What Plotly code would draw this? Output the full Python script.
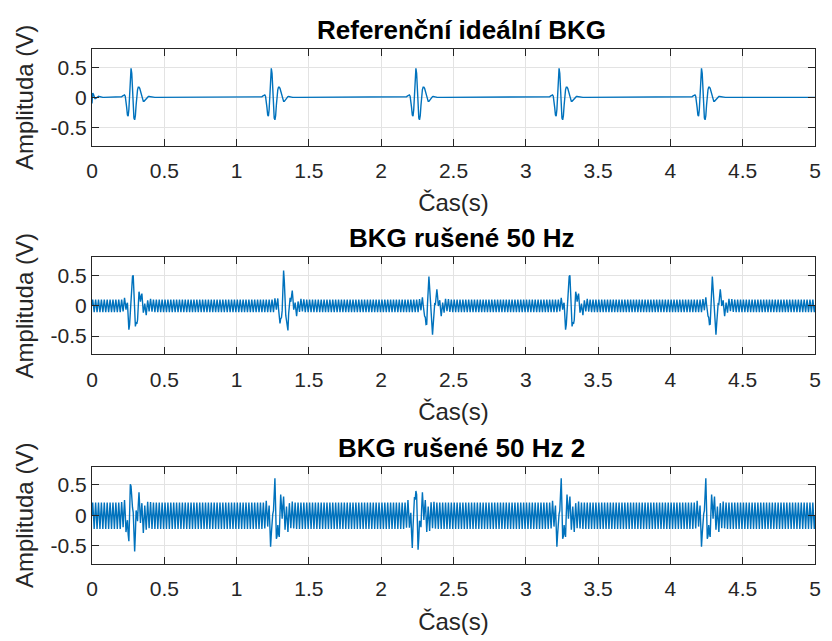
import numpy as np
import plotly.graph_objects as go

# ---------------- data ----------------
FS = 200  # samples per second
DURATION = 5.0

# one heart-beat (BKG) complex, sampled every 5 ms, starting 70 ms before the main peak
beat_template = [
    0.0, 0.01, 0.02, 0.03, 0.04, 0.04, 0.02, -0.05, -0.17, -0.29,
    -0.31, -0.20, 0.02, 0.30, 0.48, 0.40, 0.13, -0.16, -0.34, -0.37,
    -0.30, -0.13, 0.03, 0.13, 0.17, 0.17, 0.15, 0.10, 0.04, -0.01,
    -0.05, -0.065, -0.065, -0.05, -0.03, -0.01, 0.005, 0.012, 0.015, 0.015,
    0.012, 0.008, 0.004, 0.002, 0.0,
]
TEMPLATE_OFFSET = -0.070  # s, time of first template sample relative to main peak

# tail of a previous beat visible at the very start of the ideal record
start_tail = [-0.10, 0.07, 0.05, 0.0, -0.02, -0.02, -0.01, 0.01, 0.02, 0.02,
              0.015, 0.01, 0.005, 0.0]

# main-peak times (s) of each beat in the three records
beats_ideal = [0.270, 1.240, 2.240, 3.230, 4.215]
beats_noisy1 = [0.280, 1.323, 2.329, 3.301, 4.288]
beats_noisy2 = [0.272, 1.259, 2.235, 3.240, 4.240]

# one 50 Hz mains cycle (4 samples at 200 Hz) of the interference
mains_cycle_1 = [0.0, 0.10, 0.0, -0.105]
mains_cycle_2 = [0.0, 0.21, 0.0, -0.225]

titles = ["Referenční ideální BKG", "BKG rušené 50 Hz", "BKG rušené 50 Hz 2"]
x_label = "Čas(s)"
y_label = "Amplituda (V)"
x_ticks = [0, 0.5, 1, 1.5, 2, 2.5, 3, 3.5, 4, 4.5, 5]
y_ticks = [-0.5, 0, 0.5]

# ---------------- assemble records ----------------
n = int(round(DURATION * FS)) + 1
t = np.arange(n) / FS


def place_beats(times):
    s = np.zeros(n)
    tmpl = np.array(beat_template)
    for tb in times:
        i0 = int(round((tb + TEMPLATE_OFFSET) * FS))
        i1 = min(i0 + len(tmpl), n)
        s[i0:i1] += tmpl[: i1 - i0]
    return s


def tile(cycle):
    reps = n // len(cycle) + 1
    return np.tile(np.array(cycle), reps)[:n]


ideal = place_beats(beats_ideal)
ideal[: len(start_tail)] += np.array(start_tail)
noisy1 = place_beats(beats_noisy1) + tile(mains_cycle_1)
noisy2 = place_beats(beats_noisy2) + tile(mains_cycle_2)
records = [ideal, noisy1, noisy2]

# ---------------- figure ----------------
LINE = "#0072BD"
AX = "#262626"
GRID = "#e3e3e3"
FONT = "Liberation Sans, Arial, sans-serif"

domains = [(0.812, 1.0), (0.407, 0.596), (0.0, 0.189)]

fig = go.Figure()
for k, y in enumerate(records):
    xa = "x" if k == 0 else f"x{k+1}"
    ya = "y" if k == 0 else f"y{k+1}"
    fig.add_trace(go.Scatter(x=t, y=y, mode="lines", xaxis=xa, yaxis=ya,
                             line=dict(color=LINE, width=1.4), showlegend=False,
                             hoverinfo="skip"))

layout = dict(
    width=832, height=641,
    margin=dict(l=92, r=11, t=49, b=72),
    paper_bgcolor="white", plot_bgcolor="white",
    font=dict(family=FONT, color=AX, size=21),
    annotations=[],
)
for k in range(3):
    xname = "xaxis" if k == 0 else f"xaxis{k+1}"
    yname = "yaxis" if k == 0 else f"yaxis{k+1}"
    yref = "y" if k == 0 else f"y{k+1}"
    xref = "x" if k == 0 else f"x{k+1}"
    layout[xname] = dict(
        domain=[0, 1], anchor=yref, range=[0, 5], tickvals=x_ticks,
        ticktext=[f"{v:g}" for v in x_ticks],
        showline=True, linecolor=AX, linewidth=1, mirror="ticks",
        ticks="inside", ticklen=7, tickcolor=AX, tickwidth=1,
        showgrid=True, gridcolor=GRID, gridwidth=1, zeroline=False,
        ticklabelstandoff=6,
        tickfont=dict(size=21, color=AX, family=FONT),
        title=dict(text=x_label, font=dict(size=24, color=AX, family=FONT), standoff=13),
    )
    layout[yname] = dict(
        domain=list(domains[k]), anchor=xref, range=[-0.8, 0.8], tickvals=y_ticks,
        ticktext=[f"{v:g}" for v in y_ticks],
        showline=True, linecolor=AX, linewidth=1, mirror="ticks",
        ticks="inside", ticklen=7, tickcolor=AX, tickwidth=1,
        showgrid=True, gridcolor=GRID, gridwidth=1, zeroline=False,
        tickfont=dict(size=21, color=AX, family=FONT),
        title=dict(text=y_label, font=dict(size=24, color=AX, family=FONT), standoff=10),
    )
    layout["annotations"].append(dict(
        text=f"<b>{titles[k]}</b>", x=0.5, xref="paper", xshift=8,
        y=domains[k][1], yref="paper", yanchor="bottom", yshift=2,
        showarrow=False, font=dict(size=26, color="black", family=FONT),
    ))

fig.update_layout(**layout)
fig.write_html("out.html")
